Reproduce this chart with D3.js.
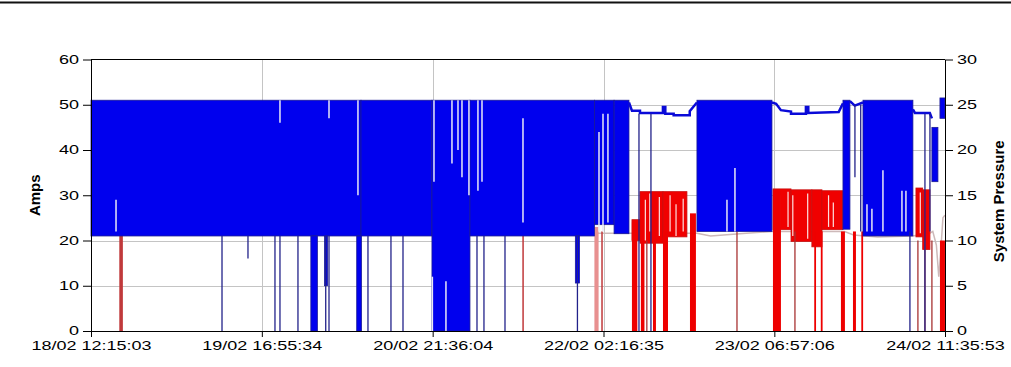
<!DOCTYPE html>
<html><head><meta charset="utf-8">
<script src="https://cdn.jsdelivr.net/npm/d3@7"></script>
<style>
body{margin:0;background:#fff}
svg{display:block}
text{font-family:"Liberation Sans",Arial,sans-serif}
</style>
</head><body>
<svg id="c" width="1011" height="367"></svg>
<script>
// ---------- DATA ----------
const tickLabels = ["18/02 12:15:03","19/02 16:55:34","20/02 21:36:04","22/02 02:16:35","23/02 06:57:06","24/02 11:35:53"];
const tickTimes  = ["2011-02-18T12:15:03","2011-02-19T16:55:34","2011-02-20T21:36:04","2011-02-22T02:16:35","2011-02-23T06:57:06","2011-02-24T11:35:53"];
const ampsTicks = [0,10,20,30,40,50,60];
const pressureTicks = [0,5,10,15,20,25,30];

// Amps: envelopes of the fast load/unload cycling, [startHour, endHour, low, high]
const ampsBands = [
  [0, 45.32, 21, 51],
  [45.32, 57.23, 21, 51],
  [57.23, 63.61, 0, 51],
  [63.61, 84.5, 21, 51],
  [84.5, 87.8, 23.5, 51],
  [87.8, 90.30, 21.5, 51],
  [101.71, 114.30, 22, 51],
  [126.22, 127.39, 22.5, 51],
  [129.58, 137.96, 21, 51],
  [141.15, 142.16, 33, 45],
  [142.50, 143.34, 47, 51.5],
  [36.9, 38.0, 0, 21],
  [39.2, 39.7, 10, 21],
  [44.6, 45.4, 0, 21],
  [81.3, 82.0, 10.6, 21]
];
// Amps: steady running (unloaded) traces, [hour, amps]
const ampsSteady = [
  [[90.30,50.5],[90.80,48.7],[92.15,48.7],[92.15,48.2],[96.0,48.2],[96.0,49.5],[96.4,49.5],[96.4,48],[97.8,48],[97.8,47.7],[100.5,47.7],[100.5,48.6],[101.71,50.5]],
  [[114.30,50.5],[115.0,50.2],[115.8,48.8],[117.5,48.5],[117.5,48],[120,48],[120,49.5],[120.4,49.5],[120.4,48.2],[125.5,48.4],[126.22,50.3]],
  [[127.39,50.8],[128.2,49.8],[129.58,50.5]],
  [[137.96,49],[138.3,48.2],[140.8,48.2],[141.15,47]]
];
// Amps: single drop-outs, [hour, low, high]
const ampsSpikes = [
  [21.99,0,21],[26.35,16,21],[30.88,0,21],[31.72,0,21],[34.74,0,21],[39.4,0,21],[39.95,0,21],
  [46.49,0,21],[50.35,0,21],[52.37,0,21],[64.79,0,21],[65.96,0,21],[69.49,0,21],[81.65,0,21],
  [91.98,0,48],[93.99,0,48],[128.23,34,50],[129.2,22,50],[137.46,0,22],[139.98,0,48],[140.82,22,48]
];
// Amps: short gaps inside the cycling band, [hour, low, high]
const ampsGaps = [
  [4.20,22,29],[31.72,46,51],[39.95,47,51],[44.81,30,51],[57.3,0,12],[57.57,33,51],[59.58,0,11],
  [60.59,37,51],[61.60,40,51],[62.27,34,51],[63.44,30,51],[64.95,31,51],[65.63,33,51],[72.51,24,47],
  [85.27,22,44],[85.94,22,48],[86.77,24,48],[106.75,22,29],[108.09,22,36],[130.25,22,28],
  [131.08,22,27],[132.93,22,35.5],[136.12,22,31],[136.79,22,31]
];
// System pressure: cycling envelopes, [startHour, endHour, low, high]
const pressureBands = [
  [90.80, 92.15, 10, 12.3],
  [92.15, 96.01, 9.7, 15.4],
  [96.01, 100.03, 10.4, 15.4],
  [114.47, 117.5, 11.2, 15.7],
  [117.5, 121.0, 9.9, 15.6],
  [121.0, 122.7, 9.3, 15.6],
  [122.7, 126.22, 11.2, 15.5],
  [138.47, 139.6, 10.4, 15.8],
  [139.6, 140.82, 9.0, 15.6]
];
// System pressure: short gaps inside the cycling band, [hour, low, high]
const pressureGaps = [
  [93.05,10,14.5],[93.8,11,15.2],[95.4,10.5,14.8],[97.2,11,15],[98.2,10.5,14],[99.4,11,14.6],
  [115.6,11.5,15],[117.0,11.5,15.4],[117.8,10.5,15],[120.3,10.2,15.2],[123.8,11.5,15],[124.6,11.5,14.2],
  [139.2,10.8,15.3]
];
// System pressure: drops to zero, [startHour, endHour, low, high]
const pressureDrops = [
  [90.80,91.70,0,12],[92.3,92.9,0,10],[94.33,94.83,0,15],[96.01,96.85,0,11],[100.54,101.54,0,13],
  [114.47,115.81,0,15.5],[121.4,121.7,0,11],[122.5,122.8,0,11],[125.88,126.55,0,11],
  [127.90,128.40,0,11],[129.3,129.6,0,11],[142.5,143.34,0,10]
];
const pressureDropsDark = [
  [4.75,5.35,0,11.2],[72.4,72.65,0,11.5],[85.65,85.9,0,11]
];
const pressureDropsLight = [
  [84.5,85.2,0,11.5]
];
const pressureSpikes = [
  [93.3,0,10],[108.43,0,11],[118.16,0,11],[138.80,0,10],[139.98,0,10],[141.15,0,10]
];
// System pressure: slow trace, [hour, pressure]
const pressureLine = [
  [0,10.8],[101.7,10.8],[104,10.5],[110,10.8],[114.3,11],[126.5,11],[128,10.6],[132,10.4],
  [137.9,10.5],[140.8,10.8],[141.3,11],[141.9,9.5],[142.3,6],[142.6,8.5],[143.0,12.5],[143.34,12.8]
];

// ---------- CHART ----------
const svg = d3.select("#c");
const L = 91, R = 945, T = 59.5, B = 331;
const t0 = new Date(tickTimes[0]);
const tickDates = tickTimes.map(s => new Date(s));
const x = d3.scaleTime().domain([tickDates[0], tickDates[tickDates.length-1]]).range([L, R]);
const y = d3.scaleLinear().domain([0, 60]).range([B, T]);
const yP = d3.scaleLinear().domain([0, 30]).range([B, T]);
const X = h => x(new Date(+t0 + h * 3600000));
const SX = 1.5;

// page rule
svg.append("rect").attr("x", 0).attr("y", 1.5).attr("width", 1011).attr("height", 2).attr("fill", "#111");

// grid
const g = svg.append("g");
g.selectAll(".hg").data(ampsTicks.slice(1, -1)).join("line")
  .attr("x1", L).attr("x2", R).attr("y1", d => Math.round(y(d)) + 0.5).attr("y2", d => Math.round(y(d)) + 0.5)
  .attr("stroke", "#c4c4c4").attr("stroke-width", 1);
g.selectAll(".vg").data(tickDates.slice(1, -1)).join("line")
  .attr("y1", T).attr("y2", B).attr("x1", d => Math.round(x(d)) + 0.5).attr("x2", d => Math.round(x(d)) + 0.5)
  .attr("stroke", "#c4c4c4").attr("stroke-width", 1);

// pressure trace
const pl = d3.line().x(d => X(d[0])).y(d => yP(d[1]));
svg.append("path").datum(pressureLine).attr("d", pl).attr("fill", "none")
  .attr("stroke", "#cdb9b9").attr("stroke-width", 1.5);

function rects(data, sc, fill, stroke) {
  svg.append("g").selectAll("rect").data(data).join("rect")
    .attr("x", d => X(d[0]))
    .attr("width", d => Math.max(1.5, X(d[1]) - X(d[0])))
    .attr("y", d => sc(d[3]))
    .attr("height", d => sc(d[2]) - sc(d[3]))
    .attr("fill", fill)
    .attr("stroke", stroke || "none").attr("stroke-width", 0.8);
}
function spikes(data, sc, stroke, w) {
  svg.append("g").selectAll("line").data(data).join("line")
    .attr("x1", d => X(d[0])).attr("x2", d => X(d[0]))
    .attr("y1", d => sc(d[1])).attr("y2", d => sc(d[2]))
    .attr("stroke", stroke).attr("stroke-width", w);
}

// pressure (red)
rects(pressureBands, yP, "#f00000", "#c81010");
spikes(pressureGaps, yP, "#fbe0e0", 1.2);
rects(pressureDrops, yP, "#ee0000");
rects(pressureDropsDark, yP, "#c0393b");
rects(pressureDropsLight, yP, "#e89090");
spikes(pressureSpikes, yP, "#a83232", 1.3);

// amps (blue)
rects(ampsBands, y, "#0000ee", "#1a1a96");
const sl = d3.line().x(d => X(d[0])).y(d => y(d[1]));
svg.append("g").selectAll("path").data(ampsSteady).join("path")
  .attr("d", sl).attr("fill", "none").attr("stroke", "#0a0ad8").attr("stroke-width", 2.5);
spikes(ampsGaps, y, "#e8e8f6", 1.5);
spikes(ampsSpikes, y, "#22228a", 1.3);

// frame
svg.append("line").attr("x1", L).attr("x2", R).attr("y1", T).attr("y2", T).attr("stroke", "#000");

// axes
function styleAxis(sel) {
  sel.select(".domain").attr("stroke", "#000");
  sel.selectAll(".tick line").attr("stroke", "#000");
  sel.selectAll(".tick text").attr("fill", "#000").attr("font-size", 12)
    .attr("font-family", '"Liberation Sans",Arial,sans-serif')
    .each(function() {
      const t = d3.select(this);
      const xv = +t.attr("x") || 0;
      t.attr("x", xv / SX).attr("transform", `scale(${SX},1)`);
    });
}
svg.append("g").attr("transform", `translate(${L},0)`)
  .call(d3.axisLeft(y).tickValues(ampsTicks).tickSize(8).tickPadding(4).tickSizeOuter(0))
  .call(styleAxis);
svg.append("g").attr("transform", `translate(${R},0)`)
  .call(d3.axisRight(yP).tickValues(pressureTicks).tickSize(8).tickPadding(4).tickSizeOuter(0))
  .call(styleAxis);
svg.append("g").attr("transform", `translate(0,${B})`)
  .call(d3.axisBottom(x).tickValues(tickDates).tickFormat((d, i) => tickLabels[i]).tickSize(6).tickPadding(4).tickSizeOuter(0))
  .call(styleAxis);

// axis titles
svg.append("text").attr("transform", `translate(40,${(T + B) / 2}) rotate(-90)`)
  .attr("text-anchor", "middle").attr("font-weight", "bold").attr("font-size", 15).text("Amps");
svg.append("text").attr("transform", `translate(1004,${(T + B) / 2 + 6}) rotate(-90)`)
  .attr("text-anchor", "middle").attr("font-weight", "bold").attr("font-size", 15).text("System Pressure");
</script>
</body></html>
